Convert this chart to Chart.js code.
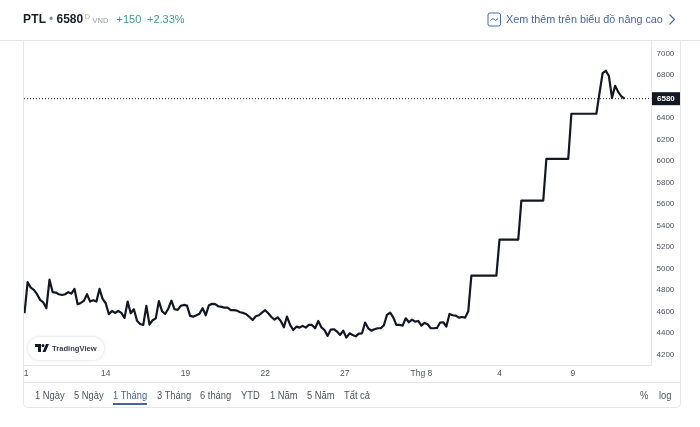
<!DOCTYPE html>
<html><head><meta charset="utf-8">
<script src="https://cdn.jsdelivr.net/npm/chart.js@4"></script>
<style>
html,body{margin:0;padding:0;width:700px;height:427px;background:#fff;overflow:hidden;font-family:"Liberation Sans",Arial,sans-serif}
canvas{position:absolute;left:0;top:0}
.a{position:absolute;white-space:nowrap}
.btn{position:absolute;top:389px;font-size:11px;line-height:13px;color:#50535e;white-space:nowrap;transform:scaleX(.85);transform-origin:left center}
</style></head><body>
<div class="a" style="left:0;top:40px;width:700px;height:1px;background:#e4e6ea"></div>
<div class="a" style="left:23px;top:40px;width:658px;height:368px;border:1px solid #e4e6ea;border-top:0;border-radius:0 0 5px 5px;box-sizing:border-box"></div>
<div class="a" style="left:23px;top:382px;width:658px;height:1px;background:#e4e6ea"></div>
<canvas id="c" width="700" height="427" style="width:700px;height:427px"></canvas>
<div class="a" style="left:23px;top:12px;font-size:12px;line-height:14px;font-weight:bold;color:#1c1f26;letter-spacing:.2px">PTL</div>
<div class="a" style="left:49px;top:12px;font-size:12px;line-height:14px;color:#8a8e99">•</div>
<div class="a" style="left:56.5px;top:12px;font-size:12px;line-height:14px;font-weight:bold;color:#1c1f26">6580</div>
<div class="a" style="left:84.5px;top:12px;font-size:8px;line-height:9px;color:#e0b050">D</div>
<div class="a" style="left:92.5px;top:16px;font-size:7.5px;line-height:9px;color:#9a9ea8">VND</div>
<div class="a" style="left:116.5px;top:12px;font-size:11px;line-height:14px;color:#3f9a8c">+150</div>
<div class="a" style="left:147px;top:12px;font-size:11px;line-height:14px;color:#3f9a8c">+2.33%</div>
<svg class="a" style="left:487px;top:12px" width="15" height="15" viewBox="0 0 15 15"><rect x="1" y="1" width="12.5" height="13" rx="2" fill="none" stroke="#4a69a8" stroke-width="1"/><path d="M3.5 8.5 L6 6.5 L8.5 8.5 L11 6.5" fill="none" stroke="#4a69a8" stroke-width="1"/></svg>
<div class="a" id="more" style="left:506px;top:12px;font-size:11.5px;line-height:14px;color:#46659f;transform:scaleX(.94);transform-origin:left center">Xem thêm trên biểu đồ nâng cao</div>
<svg class="a" style="left:667px;top:13px" width="10" height="13" viewBox="0 0 10 13"><path d="M2.5 1.5 L7.5 6.5 L2.5 11.5" fill="none" stroke="#4a69a8" stroke-width="1.1"/></svg>
<div class="a" style="left:28px;top:337px;width:76px;height:23px;border-radius:12px;background:#fff;box-shadow:0 0 3px #cfd2d9"></div>
<svg class="a" style="left:35px;top:344px" width="14" height="9" viewBox="0 0 14 9"><path d="M0 0H6V8H3V3H0Z M14 0L10.5 8H7.5L11 0Z" fill="#131722"/><circle cx="8" cy="1.6" r="1.5" fill="#131722"/></svg>
<div class="a" style="left:52px;top:343px;font-size:8px;line-height:11px;color:#3a3e49;font-weight:bold;transform:scaleX(.95);transform-origin:left center">TradingView</div>
<div class="btn" style="left:35px">1 Ngày</div>
<div class="btn" style="left:74px">5 Ngày</div>
<div class="btn" style="left:113px;color:#46659f">1 Tháng</div>
<div class="a" style="left:113px;top:403px;width:34px;height:2px;background:#46659f"></div>
<div class="btn" style="left:157px">3 Tháng</div>
<div class="btn" style="left:200px">6 tháng</div>
<div class="btn" style="left:241px">YTD</div>
<div class="btn" style="left:270px">1 Năm</div>
<div class="btn" style="left:307px">5 Năm</div>
<div class="btn" style="left:344px">Tất cả</div>
<div class="btn" style="left:640px">%</div>
<div class="btn" style="left:659px">log</div>
<script>
const closes = [
4583,4872,4821,4800,4760,4707,4685,4630,4895,4780,4775,4760,4753,4760,4779,4766,4809,4667,4679,4698,4760,4691,4704,4691,4809,4716,4676,4574,4604,4586,4604,
4586,4539,4691,4583,4620,4514,4483,4474,4651,4477,4518,4535,4695,4602,4576,4625,4700,4620,4614,4651,4660,4654,4558,4551,4564,4579,4630,4564,4657,4670,4667,4648,
4642,4635,4635,4611,4611,4607,4592,4586,4573,4548,4520,4555,4564,4589,4611,4583,4548,4524,4545,4511,4452,4552,4474,4427,4458,4449,4465,4449,4474,4474,4443,4511,
4452,4427,4372,4431,4434,4412,4381,4421,4356,4396,4381,4368,4393,4396,4496,4443,4421,4434,4443,4443,4471,4567,4589,4545,4474,4474,4468,
4536,4499,4524,4505,4511,4468,4493,4480,4443,4443,4446,4496,4499,4459,4576,4564,4561,4542,4548,4542,4601,
4933,4933,4933,4933,4933,4933,4933,4933,4933,
5268,5268,5268,5268,5268,5268,5268,
5632,5632,5632,5632,5632,5632,5632,5632,
6020,6020,6020,6020,6020,6020,6020,6020,
6440,6440,6440,6440,6440,6440,6440,6440,6440,
6632,6818,6840,6793,6588,6700,6641,6601,6580];
const lastPrice = 6580;
const priceTicks = [4200,4400,4600,4800,5000,5200,5400,5600,5800,6000,6200,6400,6600,6800,7000];
const timeTicks = [0.5,26,51.5,77,102.5,127,152,175.5];
const timeLabels = ["1","14","19","22","27","Thg 8","4","9"];
const xMin = -0.16, xMax = 200.64;

const priceTag = {
  id:'priceTag',
  afterDraw(ch){
    const c=ch.ctx, y=ch.scales.y.getPixelForValue(lastPrice);
    c.save();
    c.fillStyle='#131722';
    c.fillRect(652,y-6.5,28,13);
    c.fillStyle='#fff';
    c.font='bold 8px "Liberation Sans"';
    c.textAlign='left';c.textBaseline='middle';
    c.fillText(String(lastPrice),657,y+0.5);
    c.restore();
  }
};
new Chart(document.getElementById('c'),{
  type:'line',
  data:{datasets:[
    {data:closes.map((v,i)=>({x:i,y:v})),borderColor:'#131722',borderWidth:2.2,pointRadius:0,tension:0,borderJoinStyle:'round'},
    {data:[{x:xMin,y:lastPrice},{x:xMax,y:lastPrice}],borderColor:'#2a2e39',borderWidth:1,borderDash:[1,2],pointRadius:0}
  ]},
  options:{
    responsive:false,animation:false,devicePixelRatio:1,
    layout:{padding:{left:24,top:41,right:0,bottom:0}},
    plugins:{legend:{display:false},tooltip:{enabled:false}},
    scales:{
      x:{type:'linear',min:xMin,max:xMax,
        afterFit(s){s.height=62},
        afterBuildTicks(s){s.ticks=timeTicks.map(v=>({value:v}))},
        grid:{display:false,drawTicks:false},
        border:{display:true,color:'#e4e6ea'},
        ticks:{autoSkip:false,maxRotation:0,padding:4,color:'#50535e',font:{family:'"Liberation Sans"',size:8.5},
          callback(v){const i=timeTicks.indexOf(v);return i<0?'':timeLabels[i]}}},
      y:{type:'linear',position:'right',min:4101,max:7117,
        afterFit(s){s.width=48.5},
        afterBuildTicks(s){s.ticks=priceTicks.map(v=>({value:v}))},
        grid:{display:false,drawTicks:false},
        border:{display:true,color:'#e4e6ea'},
        ticks:{padding:5,crossAlign:'near',align:'center',color:'#50535e',font:{family:'"Liberation Sans"',size:8},
          callback(v){return priceTicks.includes(v)&&v!==6600?String(v):''}}}
    }
  },
  plugins:[priceTag]
});
</script>
</body></html>
